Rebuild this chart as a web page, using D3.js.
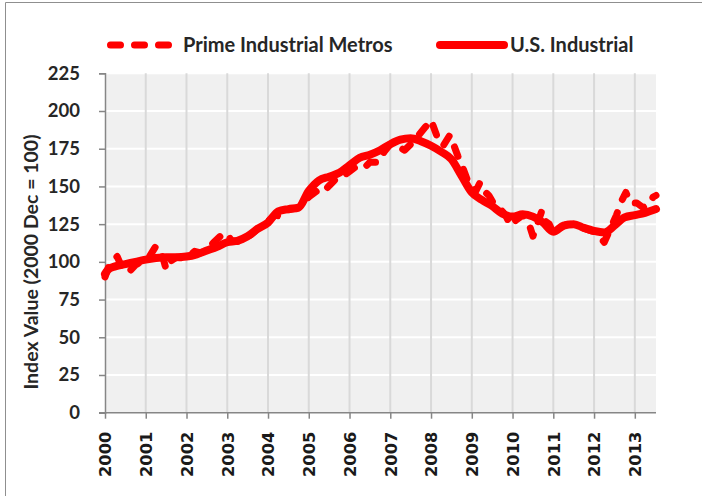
<!DOCTYPE html>
<html>
<head>
<meta charset="utf-8">
<script src="https://cdn.jsdelivr.net/npm/d3@7"></script>
<style>
  html, body { margin: 0; padding: 0; background: #fff; }
  svg { display: block; }
</style>
</head>
<body>
<div class="main"></div>
<script>
// Series names, as in the legend
let seriesNames = ["Prime Industrial Metros", "U.S. Industrial"];

// Year tick labels
let years = [2000, 2001, 2002, 2003, 2004, 2005, 2006, 2007, 2008, 2009, 2010, 2011, 2012, 2013];

// Y tick values
let yTicks = [0, 25, 50, 75, 100, 125, 150, 175, 200, 225];

// U.S. Industrial (solid) - time in decimal years, index value
let usTime = [2000.0, 2000.08, 2000.25, 2000.5, 2000.75, 2001.0, 2001.25, 2001.5, 2001.75,
  2002.0, 2002.25, 2002.5, 2002.75, 2003.0, 2003.25, 2003.5, 2003.75, 2004.0, 2004.25,
  2004.5, 2004.75, 2005.0, 2005.25, 2005.5, 2005.75, 2006.0, 2006.25, 2006.5, 2006.75,
  2007.0, 2007.25, 2007.5, 2007.75, 2008.0, 2008.25, 2008.5, 2008.75, 2009.0, 2009.25,
  2009.5, 2009.75, 2010.0, 2010.25, 2010.5, 2010.75, 2011.0, 2011.25, 2011.5, 2011.75,
  2012.0, 2012.25, 2012.5, 2012.75, 2013.0, 2013.25, 2013.52];
let usValue = [92, 95, 97, 98.5, 100, 101.5, 102.5, 103, 103,
  103.5, 105, 107.5, 110, 113, 114, 117, 122, 126, 133.5,
  135, 136, 147, 154, 156.5, 159, 164, 169, 171, 174,
  178, 181, 182, 180, 177, 173, 168, 157, 146, 141,
  137, 132, 130, 131.5, 130, 126, 120, 124, 125, 122.5,
  120.5, 119.5, 124, 129.5, 131, 132.5, 135];

// Prime Industrial Metros (dashed)
let primeTime = [2000.0, 2000.12, 2000.3, 2000.42, 2000.58, 2000.75, 2000.92, 2001.08, 2001.25,
  2001.33, 2001.42, 2001.5, 2001.58, 2001.75, 2001.92, 2002.08, 2002.2, 2002.35, 2002.5,
  2002.67, 2002.83, 2003.0, 2003.1, 2003.25, 2003.5, 2003.75, 2004.0, 2004.17, 2004.33,
  2004.5, 2004.75, 2005.0, 2005.2, 2005.35, 2005.5, 2005.7, 2005.85, 2006.0, 2006.15,
  2006.35, 2006.5, 2006.7, 2006.85, 2007.0, 2007.15, 2007.35, 2007.5, 2007.65, 2007.85,
  2008.0, 2008.15, 2008.3, 2008.46, 2008.55, 2008.66, 2008.8, 2008.95, 2009.1, 2009.2,
  2009.3, 2009.42, 2009.55, 2009.7, 2009.83, 2009.95, 2010.1, 2010.25, 2010.43, 2010.5,
  2010.62, 2010.72, 2010.8, 2010.9, 2011.0, 2011.15, 2011.33, 2011.5, 2011.67, 2011.83,
  2012.0, 2012.1, 2012.25, 2012.4, 2012.55, 2012.65, 2012.78, 2012.9, 2013.05, 2013.2,
  2013.35, 2013.45, 2013.52];
let primeValue = [90, 99, 103.5, 96, 93, 98, 100.5, 103, 110.5,
  107, 103, 95, 100, 103, 102.5, 104, 107, 106, 108,
  113, 117, 119, 114, 113.5, 116, 122, 127, 131, 130,
  134.5, 136, 143, 147, 146, 150.5, 156, 157, 160, 163,
  162, 166, 166, 173, 178, 177, 174, 178, 182.5, 189,
  194, 183, 177, 184, 178, 170, 161, 150, 147, 152.5,
  147, 144, 138, 135, 131, 124, 128, 131, 123, 117,
  126, 134, 127, 125, 119, 122, 125, 125, 123, 121.5,
  120, 118, 113, 122, 131, 139, 146, 139, 139, 136,
  138, 143, 144];

let width = 702, height = 496;
let red = "#ff0000";
let axisColor = "#868686";
let textColor = "#262626";

let svg = d3.select("div.main").append("svg")
    .attr("width", width)
    .attr("height", height);

// outer frame (only left and top edges show)
svg.append("path")
    .attr("d", "M5.5,496 L5.5,2.5 L702,2.5")
    .attr("fill", "none")
    .attr("stroke", "#8f8f8f")
    .attr("stroke-width", 1);

// Plot area
let plotLeft = 105, plotRight = 656, plotTop = 73.3, plotBottom = 412.7;

let x = d3.scaleLinear().domain([2000, 2013.52]).range([plotLeft, plotRight]);
let y = d3.scaleLinear().domain([0, 225]).range([plotBottom, plotTop]);

svg.append("rect")
    .attr("x", plotLeft).attr("y", plotTop)
    .attr("width", plotRight - plotLeft).attr("height", plotBottom - plotTop)
    .attr("fill", "#f0f0f0");

// horizontal gridlines (white)
svg.append("g").selectAll("line")
    .data(yTicks.filter(d => d > 0))
    .enter().append("line")
    .attr("x1", plotLeft).attr("x2", plotRight)
    .attr("y1", d => y(d)).attr("y2", d => y(d))
    .attr("stroke", "#ffffff")
    .attr("stroke-width", 2);

// vertical gridlines (light grey)
svg.append("g").selectAll("line")
    .data(years.filter(d => d > 2000))
    .enter().append("line")
    .attr("x1", d => x(d)).attr("x2", d => x(d))
    .attr("y1", plotTop).attr("y2", plotBottom)
    .attr("stroke", "#d9d9d9")
    .attr("stroke-width", 2);

// Y axis
let yAxis = d3.axisLeft(y).tickValues(yTicks).tickSize(6).tickPadding(19);
let gy = svg.append("g")
    .attr("transform", "translate(" + plotLeft + ",0)")
    .call(yAxis);
gy.select(".domain").attr("stroke", axisColor).attr("stroke-width", 1.5);
gy.selectAll(".tick line").attr("stroke", axisColor).attr("stroke-width", 1.5);
gy.selectAll(".tick text")
    .attr("fill", textColor)
    .style("font-family", "Lato, sans-serif")
    .style("font-weight", "bold")
    .style("font-size", "18.5px");

// X axis
let xAxis = d3.axisBottom(x).tickValues(years).tickFormat(d3.format("d")).tickSize(6).tickPadding(6);
let gx = svg.append("g")
    .attr("transform", "translate(0," + plotBottom + ")")
    .call(xAxis);
gx.select(".domain").attr("stroke", axisColor).attr("stroke-width", 1.5)
    .attr("d", "M" + (plotLeft - 6) + ",0H" + plotRight);
gx.selectAll(".tick line").attr("stroke", axisColor).attr("stroke-width", 1.5);
gx.selectAll(".tick text")
    .attr("fill", "#1a1a1a")
    .attr("transform", "rotate(-90)")
    .attr("text-anchor", "end")
    .attr("x", -19)
    .attr("y", 0)
    .attr("dy", "0.36em")
    .style("font-family", "'DejaVu Sans', sans-serif")
    .style("font-weight", "bold")
    .style("font-size", "16.3px");

// Y axis title
svg.append("text")
    .attr("transform", "translate(38," + ((plotTop + plotBottom) / 2 + 19) + ") rotate(-90)")
    .attr("text-anchor", "middle")
    .attr("fill", textColor)
    .style("font-family", "Lato, sans-serif")
    .style("font-weight", "bold")
    .style("font-size", "19.5px")
    .text("Index Value (2000 Dec = 100)");

// Lines
let primeData = primeTime.map((t, i) => [t, primeValue[i]]);
let usData = usTime.map((t, i) => [t, usValue[i]]);

let line = d3.line()
    .x(d => x(d[0]))
    .y(d => y(d[1]));

svg.append("path")
    .datum(primeData)
    .attr("d", line)
    .attr("fill", "none")
    .attr("stroke", red)
    .attr("stroke-width", 7)
    .attr("stroke-linecap", "round")
    .attr("stroke-linejoin", "round")
    .attr("stroke-dasharray", "10,14");

svg.append("path")
    .datum(usData)
    .attr("d", line.curve(d3.curveMonotoneX))
    .attr("fill", "none")
    .attr("stroke", red)
    .attr("stroke-width", 8)
    .attr("stroke-linecap", "round")
    .attr("stroke-linejoin", "round");

// Legend
let legend = svg.append("g").attr("transform", "translate(0,45)");
legend.append("line")
    .attr("x1", 110.5).attr("x2", 174).attr("y1", 0).attr("y2", 0)
    .attr("stroke", red).attr("stroke-width", 7)
    .attr("stroke-linecap", "round")
    .attr("stroke-dasharray", "10,14");
legend.append("text")
    .attr("x", 183).attr("y", 0).attr("dy", "0.35em")
    .attr("fill", textColor)
    .style("font-family", "Lato, sans-serif")
    .style("font-weight", "bold")
    .style("font-size", "20px")
    .text(seriesNames[0]);
legend.append("line")
    .attr("x1", 440).attr("x2", 504).attr("y1", 0).attr("y2", 0)
    .attr("stroke", red).attr("stroke-width", 8)
    .attr("stroke-linecap", "round");
legend.append("text")
    .attr("x", 510).attr("y", 0).attr("dy", "0.35em")
    .attr("fill", textColor)
    .style("font-family", "Lato, sans-serif")
    .style("font-weight", "bold")
    .style("font-size", "20px")
    .text(seriesNames[1]);
</script>
</body>
</html>
